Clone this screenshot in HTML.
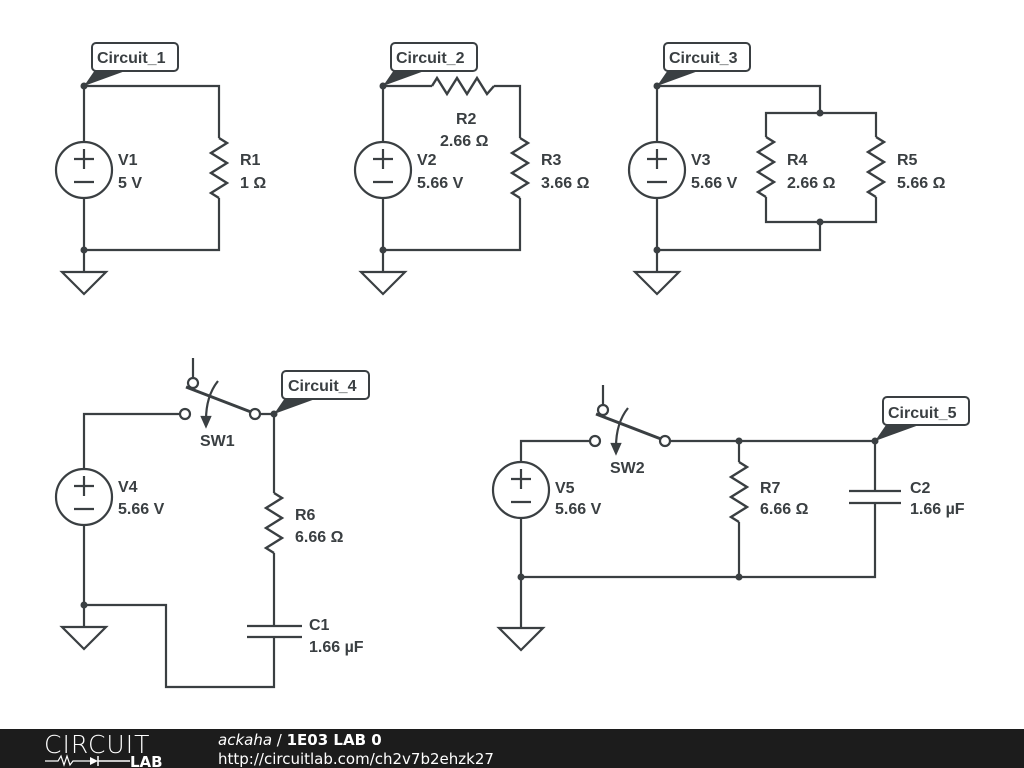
<!DOCTYPE html>
<html><head><meta charset="utf-8"><style>
html,body{margin:0;padding:0;background:#fff;}
svg{display:block;}
</style></head><body>
<svg width="1024" height="768" viewBox="0 0 1024 768" xmlns="http://www.w3.org/2000/svg">
<defs>
<g id="src"><circle cx="0" cy="0" r="28" fill="#fff" stroke="#3a3f42" stroke-width="2.2"/><path d="M-10 -11h20M0 -21v20M-10 12h20" stroke="#3a3f42" stroke-width="2.2" fill="none"/></g>
<g id="gnd"><path d="M-22 0H22L0 22Z" fill="#fff" stroke="#3a3f42" stroke-width="2.2"/></g>
<polyline id="rv" points="0,0 8,5 -8,15 8,25 -8,35 8,45 -8,55 0,60" fill="none" stroke="#3a3f42" stroke-width="2.4"/>
<g id="sw" fill="none" stroke="#3a3f42" stroke-width="2.2">
<path d="M193 358V378"/>
<circle cx="193" cy="383" r="5" fill="#fff"/>
<path d="M186 387L251 412" stroke-width="3"/>
<circle cx="185" cy="414" r="5" fill="#fff"/>
<circle cx="255" cy="414" r="5" fill="#fff"/>
<path d="M218 381Q206 396 206 420"/>
<path d="M202 417L206 426L210 417Z" fill="#3a3f42"/>
</g>
</defs>
<g fill="none" stroke="#3a3f42" stroke-width="2.2">
<path d="M84 86H219V138M219 198V250H84M84 86V142M84 198V272"/>
<path d="M383 86H432M494 86H520V138M520 198V250H383M383 86V142M383 198V272"/>
<polyline points="432,86 437,78 447,94 457,78 467,94 477,78 487,94 494,86" stroke-width="2.4"/>
<path d="M657 86H820V113M766 137V113H876V137M766 197V222H876V197M820 222V250H657M657 86V142M657 198V272"/>
<path d="M84 469V414H180M260 414H274V493M274 553V626M274 637V687H166V605H84M84 525V627"/>
<path d="M247 626H302M247 637H302"/>
<path d="M521 462V441H590M668 441H875V491M875 503V577H521M739 441V462M739 522V577M521 518V628"/>
<path d="M849 491H901M849 503H901"/>
</g>
<use href="#rv" x="219" y="138"/>
<use href="#rv" x="520" y="138"/>
<use href="#rv" x="766" y="137"/>
<use href="#rv" x="876" y="137"/>
<use href="#rv" x="274" y="493"/>
<use href="#rv" x="739" y="462"/>
<use href="#src" x="84" y="170"/>
<use href="#src" x="383" y="170"/>
<use href="#src" x="657" y="170"/>
<use href="#src" x="84" y="497"/>
<use href="#src" x="521" y="490"/>
<use href="#gnd" x="84" y="272"/>
<use href="#gnd" x="383" y="272"/>
<use href="#gnd" x="657" y="272"/>
<use href="#gnd" x="84" y="627"/>
<use href="#gnd" x="521" y="628"/>
<use href="#sw"/>
<use href="#sw" x="410" y="27"/>
<g fill="#3a3f42">
<circle cx="84" cy="86" r="3.5"/><circle cx="84" cy="250" r="3.5"/>
<circle cx="383" cy="86" r="3.5"/><circle cx="383" cy="250" r="3.5"/>
<circle cx="657" cy="86" r="3.5"/><circle cx="657" cy="250" r="3.5"/><circle cx="820" cy="113" r="3.5"/><circle cx="820" cy="222" r="3.5"/>
<circle cx="274" cy="414" r="3.5"/><circle cx="84" cy="605" r="3.5"/>
<circle cx="739" cy="441" r="3.5"/><circle cx="875" cy="441" r="3.5"/><circle cx="521" cy="577" r="3.5"/><circle cx="739" cy="577" r="3.5"/>
<path d="M84 86L95 70H128Z"/><path d="M383 86L394 70H427Z"/><path d="M657 86L668 70H701Z"/>
<path d="M274 414L285 398H318Z"/><path d="M875 441L886 425H919Z"/>
</g>
<g fill="#fff" stroke="#3a3f42" stroke-width="2">
<rect x="92" y="43" width="86" height="28" rx="4"/>
<rect x="391" y="43" width="86" height="28" rx="4"/>
<rect x="664" y="43" width="86" height="28" rx="4"/>
<rect x="282" y="371" width="87" height="28" rx="4"/>
<rect x="883" y="397" width="86" height="28" rx="4"/>
</g>
<g font-family="Liberation Sans, Arial, sans-serif" font-weight="bold" font-size="16" fill="#3a3f42">
<text x="97" y="63">Circuit_1</text>
<text x="396" y="63">Circuit_2</text>
<text x="669" y="63">Circuit_3</text>
<text x="288" y="391">Circuit_4</text>
<text x="888" y="418">Circuit_5</text>
<text x="118" y="165">V1</text><text x="118" y="188">5 V</text>
<text x="240" y="165">R1</text><text x="240" y="188">1 Ω</text>
<text x="417" y="165">V2</text><text x="417" y="188">5.66 V</text>
<text x="456" y="124">R2</text><text x="440" y="146">2.66 Ω</text>
<text x="541" y="165">R3</text><text x="541" y="188">3.66 Ω</text>
<text x="691" y="165">V3</text><text x="691" y="188">5.66 V</text>
<text x="787" y="165">R4</text><text x="787" y="188">2.66 Ω</text>
<text x="897" y="165">R5</text><text x="897" y="188">5.66 Ω</text>
<text x="118" y="492">V4</text><text x="118" y="514">5.66 V</text>
<text x="200" y="446">SW1</text>
<text x="295" y="520">R6</text><text x="295" y="542">6.66 Ω</text>
<text x="309" y="630">C1</text><text x="309" y="652">1.66 µF</text>
<text x="555" y="493">V5</text><text x="555" y="514">5.66 V</text>
<text x="610" y="473">SW2</text>
<text x="760" y="493">R7</text><text x="760" y="514">6.66 Ω</text>
<text x="910" y="493">C2</text><text x="910" y="514">1.66 µF</text>
</g>
<rect x="0" y="729" width="1024" height="39" fill="#1c1c1c"/>
<g font-family="DejaVu Sans, sans-serif" fill="#fff">
<text x="44" y="753" font-size="25" font-weight="200" letter-spacing="1">CIRCUIT</text>
<text x="130" y="767" font-size="15" font-weight="bold">LAB</text>
<text x="218" y="745" font-size="15"><tspan font-style="italic">ackaha</tspan> / <tspan font-weight="bold">1E03 LAB 0</tspan></text>
<text x="218" y="764" font-size="15">http://circuitlab.com/ch2v7b2ehzk27</text>
</g>
<path d="M45 761H58L61 756L64 765L67 756L70 765L73 761H90" stroke="#fff" stroke-width="1.2" fill="none"/>
<path d="M90 757V765L98 761Z" fill="#fff"/><path d="M98 756V766M98 761H130" stroke="#fff" stroke-width="1.5"/>
</svg>
</body></html>
